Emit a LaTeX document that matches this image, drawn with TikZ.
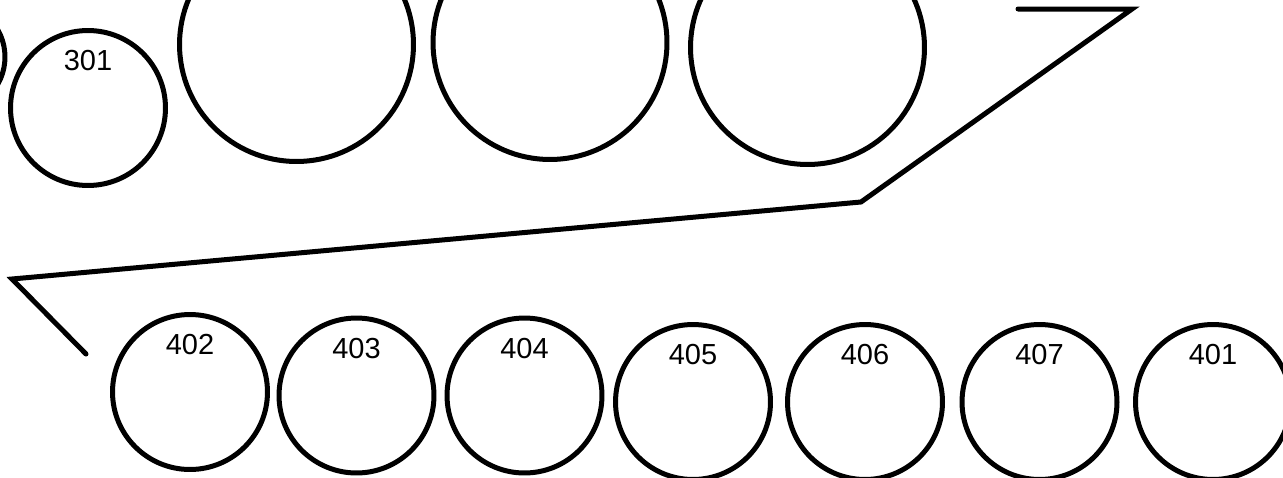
\documentclass[tikz,border=0pt]{standalone}
\usepackage{fontspec}
\setmainfont{Liberation Sans}
\usetikzlibrary{positioning}
\tikzset{
  ring/.style={draw,circle,line width=0.1cm,minimum size=3.1cm,inner sep=0pt},
  bigring/.style={ring,minimum size=4.68cm},
  tag/.style={inner sep=0pt,font=\fontsize{16.5}{18}\selectfont}
}
\begin{document}
\begin{tikzpicture}[x=0.02cm,y=-0.02cm]
  \useasboundingbox (0,0) rectangle (1283,477);
  % top row
  \node[ring,minimum size=2.2cm] (c300) at (-50,57) {};
  \node[ring] (c301) at (88,108) {};
  \node[bigring] (b1) at (296.5,44.5) {};
  \node[bigring] (b2) at (550,42.5) {};
  \node[bigring] (b3) at (807.5,47.5) {};
  \node[tag,below=0.44cm of c301.north] (t301) {301};
  % bottom row
  \node[ring] (c402) at (190,392) {};
  \node[ring] (c403) at (356.5,395.5) {};
  \node[ring] (c404) at (524.5,395.5) {};
  \node[ring] (c405) at (693,402) {};
  \node[ring] (c406) at (865,402) {};
  \node[ring] (c407) at (1039.5,402) {};
  \node[ring] (c401) at (1213,402) {};
  \foreach \n in {402,403,404,405,406,407,401}
    \node[tag,below=0.44cm of c\n.north] (t\n) {\n};
  % folded line
  \coordinate (p1) at (1018,9);
  \coordinate (p2) at (1132,9);
  \coordinate (p3) at (861,202);
  \coordinate (p4) at (12,279);
  \coordinate (p5) at (86,354);
  \draw[line width=0.1cm,line cap=round] (p1) -- (p2) -- (p3) -- (p4) -- (p5);
\end{tikzpicture}
\end{document}
